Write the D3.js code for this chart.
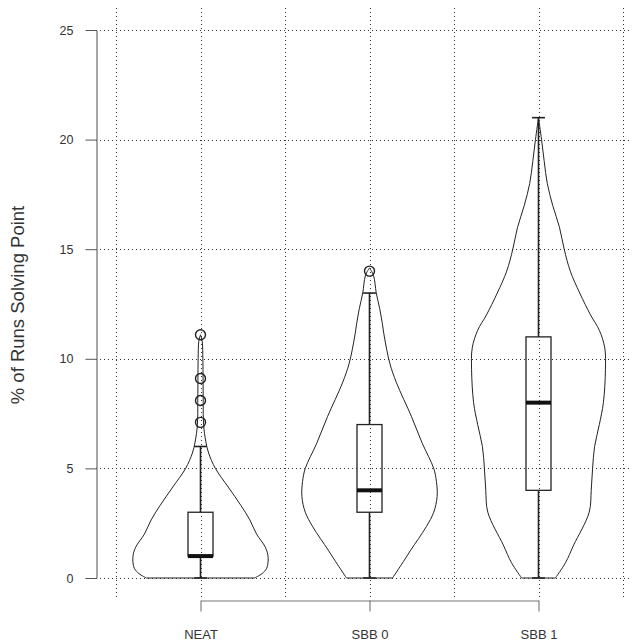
<!DOCTYPE html>
<html>
<head>
<meta charset="utf-8">
<script src="https://cdn.jsdelivr.net/npm/d3@7"></script>
<style>
  body { margin: 0; background: #fff; }
  svg { display: block; font-family: "Liberation Sans", Arial, sans-serif; }
</style>
</head>
<body>
<div id="chart"></div>
<script>
// categories and axis ticks
const categories = ["NEAT", "SBB 0", "SBB 1"];
const yTicks = [0, 5, 10, 15, 20, 25];
const gridX = [0.5, 1, 1.5, 2, 2.5, 3, 3.5];

// box plot stats per category
const whiskLo = [0, 0, 0];
const q1 = [1, 3, 4];
const medians = [1, 4, 8];
const q3 = [3, 7, 11];
const whiskHi = [6, 13, 21];
const outliersNEAT = [7.1, 8.1, 9.1, 11.1];
const outliersSBB0 = [14];
const outliersSBB1 = [];

// violin density (relative to max) read at these levels
const neatLevels  = [0, 0.2, 0.45, 0.95, 1.4, 2, 2.65, 3.3, 4.15, 5, 5.7, 6.2, 7, 8, 9, 10, 10.8, 11.1];
const neatDensity = [0.8, 0.91, 0.98, 1, 0.96, 0.83, 0.73, 0.6, 0.41, 0.22, 0.12, 0.08, 0.045, 0.04, 0.038, 0.035, 0.025, 0];
const sbb0Levels  = [0, 0.6, 1.27, 2.34, 3, 3.71, 4.4, 5, 6.15, 7.37, 8.9, 9.8, 11, 11.6, 12.3, 13, 13.8, 14.15];
const sbb0Density = [0.34, 0.47, 0.61, 0.84, 0.95, 1, 0.99, 0.95, 0.78, 0.62, 0.4, 0.3, 0.22, 0.19, 0.15, 0.1, 0.06, 0];
const sbb1Levels  = [0, 0.7, 1.5, 3, 4, 5, 6, 7, 8, 9.5, 10.5, 11.3, 12, 13, 14, 15, 16, 17, 18, 19, 20, 21];
const sbb1Density = [0.25, 0.4, 0.52, 0.75, 0.78, 0.8, 0.83, 0.9, 0.96, 0.99, 0.98, 0.9, 0.77, 0.61, 0.47, 0.38, 0.31, 0.21, 0.13, 0.085, 0.045, 0];

const violins = [
  { levels: neatLevels, density: neatDensity, outliers: outliersNEAT },
  { levels: sbb0Levels, density: sbb0Density, outliers: outliersSBB0 },
  { levels: sbb1Levels, density: sbb1Density, outliers: outliersSBB1 }
];

const W = 632, H = 644;
const svg = d3.select("#chart").append("svg")
  .attr("width", W)
  .attr("height", H);

const x = d3.scaleLinear().domain([0.5, 3.5]).range([116, 623]);
const y = d3.scaleLinear().domain([0, 25]).range([578, 30]);
const plotTop = 8, plotBottom = 600, axisX = 96;

const wex = 0.4, boxHalf = 0.074, capHalf = 0.038;
const ink = "#222";

// violins
violins.forEach((v, i) => {
  const c = i + 1;
  const pts = v.levels.map((l, j) => ({ v: l, d: v.density[j] }));
  const area = d3.area()
    .curve(d3.curveCatmullRom)
    .y(d => y(d.v))
    .x0(d => x(c - wex * d.d))
    .x1(d => x(c + wex * d.d));
  svg.append("path")
    .datum(pts)
    .attr("d", area)
    .attr("fill", "none")
    .attr("stroke", ink)
    .attr("stroke-width", 1);

  // whisker
  svg.append("line")
    .attr("x1", x(c)).attr("x2", x(c))
    .attr("y1", y(whiskLo[i])).attr("y2", y(whiskHi[i]))
    .attr("stroke", ink).attr("stroke-width", 1.6);
  [whiskLo[i], whiskHi[i]].forEach(w => {
    svg.append("line")
      .attr("x1", x(c - capHalf)).attr("x2", x(c + capHalf))
      .attr("y1", y(w)).attr("y2", y(w))
      .attr("stroke", ink).attr("stroke-width", 1.6);
  });

  // box
  svg.append("rect")
    .attr("x", x(c - boxHalf))
    .attr("y", y(q3[i]))
    .attr("width", x(c + boxHalf) - x(c - boxHalf))
    .attr("height", y(q1[i]) - y(q3[i]))
    .attr("fill", "#fff")
    .attr("stroke", ink)
    .attr("stroke-width", 1.3);
  svg.append("line")
    .attr("x1", x(c - boxHalf)).attr("x2", x(c + boxHalf))
    .attr("y1", y(medians[i])).attr("y2", y(medians[i]))
    .attr("stroke", "#111").attr("stroke-width", 4);

  // outliers
  svg.selectAll(null)
    .data(v.outliers)
    .enter().append("circle")
    .attr("cx", x(c))
    .attr("cy", d => y(d))
    .attr("r", 5)
    .attr("fill", "none")
    .attr("stroke", ink)
    .attr("stroke-width", 1.4);
});

// dotted grid on top
const grid = svg.append("g")
  .attr("stroke", "#333")
  .attr("stroke-width", 1)
  .attr("stroke-dasharray", "1,3");
grid.selectAll(".gv")
  .data(gridX)
  .enter().append("line")
  .attr("x1", d => Math.round(x(d)) + 0.5)
  .attr("x2", d => Math.round(x(d)) + 0.5)
  .attr("y1", plotTop)
  .attr("y2", plotBottom);
grid.selectAll(".gh")
  .data(yTicks)
  .enter().append("line")
  .attr("x1", axisX)
  .attr("x2", W)
  .attr("y1", d => Math.round(y(d)) + 0.5)
  .attr("y2", d => Math.round(y(d)) + 0.5);

// y axis
const yAxis = svg.append("g")
  .attr("transform", `translate(${axisX + 0.5},0)`)
  .call(d3.axisLeft(y).tickValues(yTicks).tickSize(11).tickSizeOuter(0).tickPadding(12));
yAxis.select(".domain").attr("stroke", "#777").attr("stroke-width", 1.3);
yAxis.selectAll(".tick line").attr("stroke", "#555");
yAxis.selectAll("text")
  .attr("fill", "#333")
  .style("font-size", "12.5px")
  .style("font-family", "Liberation Sans, Arial, sans-serif");

// x axis
const xCat = d3.scalePoint().domain(categories).range([x(1), x(3)]);
const xAxis = svg.append("g")
  .attr("transform", `translate(0,${plotBottom + 0.5})`)
  .call(d3.axisBottom(xCat).tickSize(11).tickSizeOuter(0).tickPadding(18.5));
xAxis.select(".domain").attr("stroke", "#777").attr("stroke-width", 1.2);
xAxis.selectAll(".tick line").attr("stroke", "#666");
xAxis.selectAll("text")
  .attr("fill", "#333")
  .style("font-size", "13px")
  .style("font-family", "Liberation Sans, Arial, sans-serif");

// y title
svg.append("text")
  .attr("transform", `translate(24,${(y(0) + y(25)) / 2 + 1}) rotate(-90)`)
  .attr("text-anchor", "middle")
  .attr("fill", "#333")
  .style("font-size", "18.5px")
  .text("% of Runs Solving Point");
</script>
</body>
</html>
